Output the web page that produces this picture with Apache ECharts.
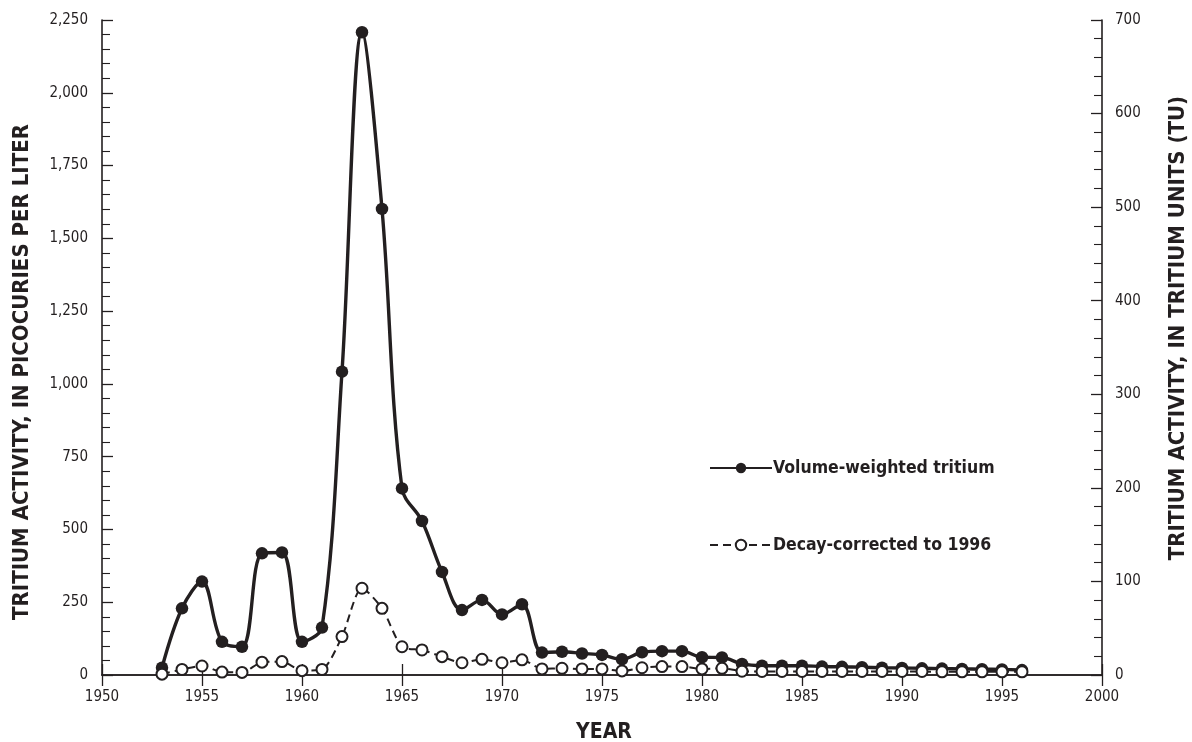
<!DOCTYPE html>
<html>
<head>
<meta charset="utf-8">
<script src="https://cdn.jsdelivr.net/npm/echarts@6/dist/echarts.min.js"></script>
<style>
html,body{margin:0;padding:0;background:#fff;}
#chart{width:1192px;height:742px;}
</style>
</head>
<body>
<div id="chart"></div>
<script>
const years = [1953,1954,1955,1956,1957,1958,1959,1960,1961,1962,1963,1964,1965,1966,1967,1968,1969,1970,1971,1972,1973,1974,1975,1976,1977,1978,1979,1980,1981,1982,1983,1984,1985,1986,1987,1988,1989,1990,1991,1992,1993,1994,1995,1996];
const volumeWeighted = [25,229,321,114,97,418,421,114,163,1042,2208,1601,641,529,354,223,258,208,243,77,80,74,69,54,78,82,82,61,60,38,32,32,32,29,28,27,25,24,23,22,21,20,19,17];
const decayCorrected = [3,19,31,10,9,44,46,15,19,132,298,229,97,86,63,42,54,42,52,21,23,21,21,14,25,29,29,21,23,13,12,12,12,12,12,12,12,12,12,11,11,11,11,11];
const leftTicks = [0,250,500,750,1000,1250,1500,1750,2000,2250];
const rightTicks = [0,100,200,300,400,500,600,700];
const xTicks = [1950,1955,1960,1965,1970,1975,1980,1985,1990,1995,2000];

const ink = '#231f20';
const narrow = '"DejaVu Sans Condensed","Liberation Sans Narrow",sans-serif';

const chart = echarts.init(document.getElementById('chart'), null, {renderer:'canvas'});
const axisLine = {show:true, lineStyle:{color:ink, width:1.6}};
const tick = {show:true, inside:true, length:11, lineStyle:{color:ink, width:1.3}};
const minor = {show:true, splitNumber:5, length:8, lineStyle:{color:ink, width:1.1}};
const option = {
  animation:false,
  backgroundColor:'#fff',
  grid:{left:102, right:90, top:20, bottom:67, containLabel:false},
  xAxis:[{
    type:'value', min:xTicks[0], max:xTicks[xTicks.length-1], interval:5, position:'bottom',
    axisLine:axisLine, axisTick:tick,
    axisLabel:{color:ink, fontFamily:narrow, fontSize:15, margin:15, formatter:v=>String(v)},
    splitLine:{show:false}
  },{
    type:'value', min:xTicks[0], max:xTicks[xTicks.length-1], interval:5, position:'top',
    axisLine:axisLine, axisTick:tick,
    axisLabel:{show:false}, splitLine:{show:false}
  }],
  yAxis:[{
    type:'value', min:leftTicks[0], max:leftTicks[leftTicks.length-1], interval:250, position:'left',
    axisLine:axisLine, axisTick:tick, minorTick:minor,
    axisLabel:{color:ink, fontFamily:narrow, fontSize:15, margin:14,
      formatter:v=>v.toLocaleString('en-US')},
    splitLine:{show:false}
  },{
    type:'value', min:rightTicks[0], max:rightTicks[rightTicks.length-1], interval:100, position:'right',
    axisLine:axisLine, axisTick:tick, minorTick:minor,
    axisLabel:{color:ink, fontFamily:narrow, fontSize:15, margin:13},
    splitLine:{show:false}
  }],
  legend:{
    orient:'vertical', left:704, top:454, itemWidth:62, itemHeight:13, itemGap:59,
    textStyle:{color:ink, fontFamily:narrow, fontWeight:'bold', fontSize:17.5, padding:[0,0,0,-4]},
    data:[{name:'Volume-weighted tritium'},{name:'Decay-corrected to 1996'}]
  },
  graphic:[
    {type:'text', x:22, y:372, rotation:Math.PI/2,
     style:{text:'TRITIUM ACTIVITY, IN PICOCURIES PER LITER', fill:ink, font:'bold 22px '+narrow, align:'center', verticalAlign:'middle'}},
    {type:'text', x:1178, y:328, rotation:Math.PI/2,
     style:{text:'TRITIUM ACTIVITY, IN TRITIUM UNITS (TU)', fill:ink, font:'bold 22px '+narrow, align:'center', verticalAlign:'middle'}},
    {type:'text', x:604, y:733,
     style:{text:'YEAR', fill:ink, font:'bold 21px '+narrow, align:'center', verticalAlign:'middle'}}
  ],
  series:[
    {name:'Volume-weighted tritium', type:'line', xAxisIndex:0, yAxisIndex:0,
     data:years.map((y,i)=>[y,volumeWeighted[i]]),
     smooth:0.35, symbol:'circle', symbolSize:12.5,
     lineStyle:{color:ink, width:3.4}, itemStyle:{color:ink}, z:2},
    {name:'Decay-corrected to 1996', type:'line', xAxisIndex:0, yAxisIndex:0,
     data:years.map((y,i)=>[y,decayCorrected[i]]),
     smooth:0.25, symbol:'emptyCircle', symbolSize:11,
     lineStyle:{color:ink, width:2, type:[8,5]},
     itemStyle:{color:ink, borderColor:ink, borderWidth:2}, z:3}
  ]
};
chart.setOption(option);
</script>
</body>
</html>
